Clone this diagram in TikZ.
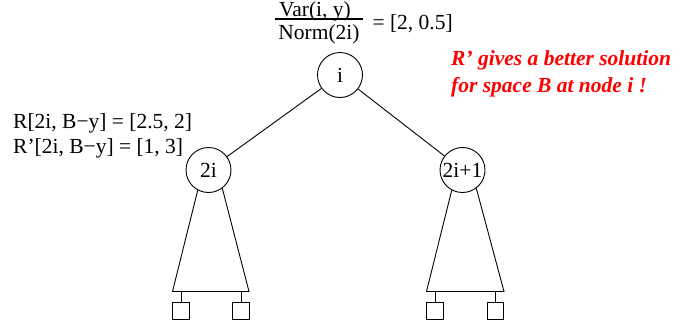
\documentclass[tikz,border=0pt]{standalone}
\usepackage{fontspec}
\setmainfont{Liberation Serif}
\begin{document}
\begin{tikzpicture}[x=1pt, y=-1pt, every node/.style={font=\fontsize{21.5}{25}\selectfont},
  tnode/.style={circle, draw, line width=0.9pt, minimum size=45pt, inner sep=1pt},
  leaf/.style={rectangle, draw, line width=0.9pt, minimum size=16.5pt, inner sep=0pt},
  edge/.style={line width=0.9pt}]
  \useasboundingbox (0,0) rectangle (681,327);
  % Tree
  \node[tnode] (i) at (340,75) {i};
  \node[tnode] (l) at (208.5,170) {2i};
  \node[tnode] (r) at (462.5,170) {2i+1};
  \draw[edge] (i)--(l); \draw[edge] (i)--(r);
  % Subtrees
  \coordinate (lbl) at (172.5,291.5); \coordinate (lbr) at (249,291.5);
  \coordinate (rbl) at (426.5,291.5); \coordinate (rbr) at (504,291.5);
  \draw[edge] (l.242)--(lbl)--(lbr)--(l.307);
  \draw[edge] (r.242)--(rbl)--(rbr)--(r.307);
  \foreach \n/\x in {a/181,b/241,c/435,d/495.5} {
    \node[leaf] (\n) at (\x,311) {};
    \draw[edge] (\n.north)--(\n.north |- lbl);
  }
  % Labels
  \node (num) at (315,11) {Var(i, y)};
  \node (den) at (319,34) {Norm(2i)};
  \draw[line width=1.6pt] ([yshift=2pt]den.north west)--([yshift=2pt]den.north east);
  \node[anchor=west] (val) at (369,24) {= [2, 0.5]};
  \node[anchor=base west, align=left, inner sep=0pt] (rv) at (13,153)
    {R[2i, B−y] = [2.5, 2]\\R’[2i, B−y] = [1, 3]};
  \node[anchor=base west, align=left, inner sep=0pt, text=red,
    font=\fontsize{21.5}{27}\selectfont\bfseries\itshape] (note) at (451,92)
    {R’ gives a better solution\\for space B at node i !};
\end{tikzpicture}
\end{document}
